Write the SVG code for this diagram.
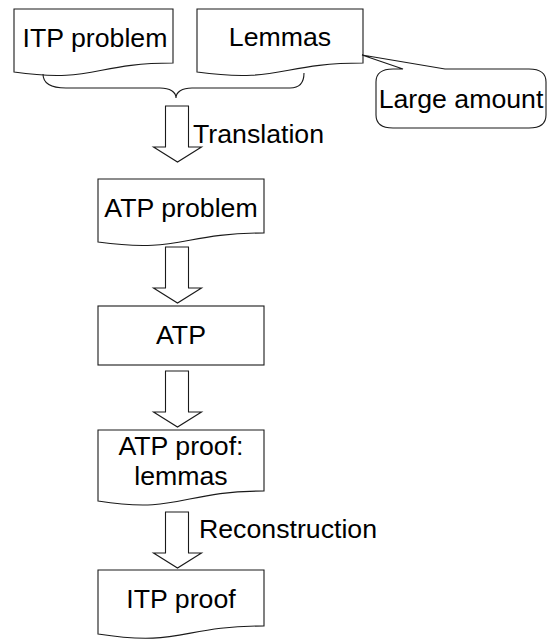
<svg xmlns="http://www.w3.org/2000/svg" width="547" height="639" viewBox="0 0 547 639">
  <style>
    .shape { fill: #ffffff; stroke: #1a1a1a; stroke-width: 1.1; stroke-linejoin: miter; }
    .line { fill: none; stroke: #1a1a1a; stroke-width: 1.1; }
    .label { font-family: "Liberation Sans", Arial, sans-serif; font-size: 26.7px; fill: #000000; }
    .mid { text-anchor: middle; }
  </style>
  <defs>
    <!-- block arrow pointing down: shaft 23 wide, head 48 wide -->
    <path id="blockArrow" d="M-12,0 L11,0 L11,41 L24,41 L0,56 L-24,41 L-12,41 Z"/>
  </defs>

  <rect width="547" height="639" fill="#ffffff"/>

  <!-- document shapes: flat top, wavy bottom -->
  <g id="itp-problem">
    <path class="shape" d="M14,9 L173,9 L173,63 C93.5,63 93.5,83.5 14,72 Z"/>
    <text class="label mid" x="95" y="47">ITP problem</text>
  </g>

  <g id="lemmas">
    <path class="shape" d="M197,9 L363,9 L363,63 C280,63 280,83.5 197,72 Z"/>
    <text class="label mid" x="280" y="46">Lemmas</text>
  </g>

  <g id="large-amount">
    <path class="shape" d="M393,69 L403,69 L362,55 L445,69 L529,69 Q546,69 546,82 L546,115 Q546,128 529,128 L393,128 Q376,128 376,115 L376,82 Q376,69 393,69 Z"/>
    <text class="label mid" x="461" y="108">Large amount</text>
  </g>

  <g id="atp-problem">
    <path class="shape" d="M98,179 L264,179 L264,233 C181,233 181,253.5 98,242 Z"/>
    <text class="label mid" x="181" y="217">ATP problem</text>
  </g>

  <g id="atp">
    <rect class="shape" x="98" y="306" width="166" height="59"/>
    <text class="label mid" x="181" y="344">ATP</text>
  </g>

  <g id="atp-proof">
    <path class="shape" d="M98,430 L264,430 L264,491 C181,491 181,514 98,501 Z"/>
    <text class="label mid" x="181" y="455">ATP proof:</text>
    <text class="label mid" x="181" y="485">lemmas</text>
  </g>

  <g id="itp-proof">
    <path class="shape" d="M98,570 L264,570 L264,626 C181,626 181,647 98,634 Z"/>
    <text class="label mid" x="181" y="608">ITP proof</text>
  </g>

  <!-- connectors: brace gathering the inputs, then block arrows down the chain -->
  <g id="connectors">
    <path class="line" d="M43,74 C43,84 52,88 66,88 L160,88 C170,88 176,92 176,98 C176,92 182,88 192,88 L290,88 C298,88 304,84 304,73"/>
    <use href="#blockArrow" class="shape" x="177.5" y="106"/>
    <use href="#blockArrow" class="shape" x="177.5" y="247"/>
    <use href="#blockArrow" class="shape" x="177.5" y="371"/>
    <use href="#blockArrow" class="shape" x="177.5" y="512"/>
    <text class="label" x="193" y="143">Translation</text>
    <text class="label" x="199" y="538">Reconstruction</text>
  </g>
</svg>
